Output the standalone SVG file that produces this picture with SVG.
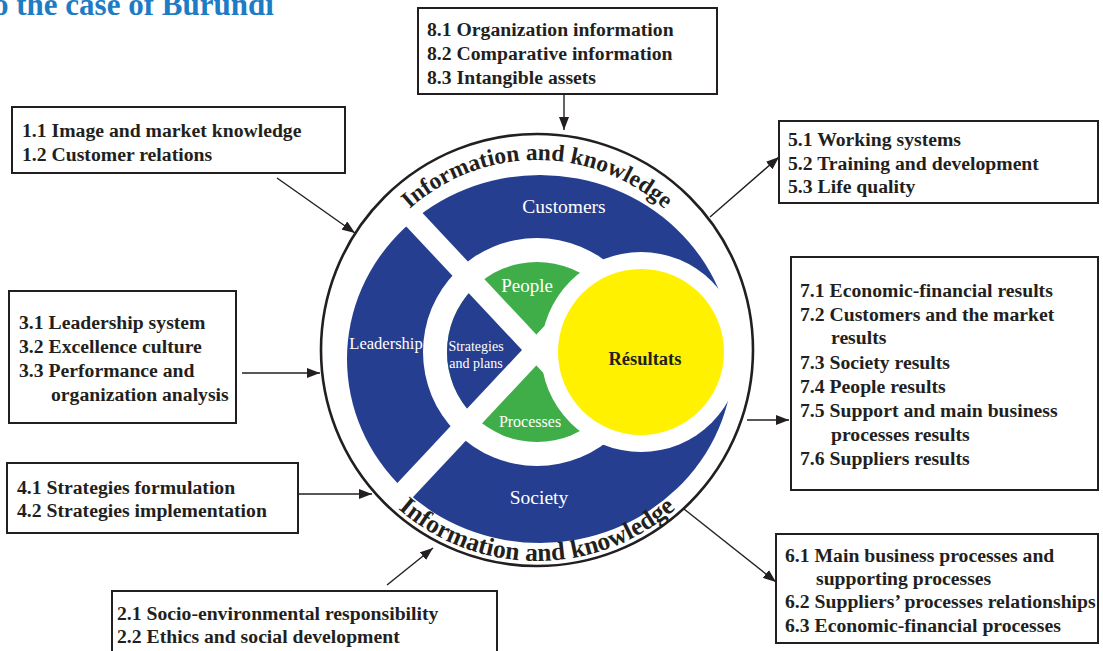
<svg xmlns="http://www.w3.org/2000/svg" width="1103" height="651" viewBox="0 0 1103 651">
<style>
.box{fill:#fff;stroke:#231f20;stroke-width:2}
.bt{font-family:"Liberation Serif",serif;font-weight:bold;font-size:19.7px;fill:#231f20}
.wl{font-family:"Liberation Serif",serif;fill:#fff;text-anchor:middle}
.arc{font-family:"Liberation Serif",serif;font-weight:bold;fill:#231f20}
.con{stroke:#231f20;stroke-width:1.4;fill:none;marker-end:url(#ah)}
</style>
<defs>
<marker id="ah" markerUnits="userSpaceOnUse" markerWidth="14" markerHeight="10" refX="13" refY="5" orient="auto">
<path d="M0,0 L13,5 L0,10 z" fill="#231f20"/>
</marker>
<clipPath id="innerClip"><circle cx="537" cy="352" r="90"/></clipPath>
<path id="arcTop" d="M347,350 A190,190 0 0 1 727,350"/>
<path id="arcBot" d="M326,350 A211,211 0 0 0 748,350"/>
</defs>
<rect width="1103" height="651" fill="#fff"/>
<text x="-7" y="15" font-family="Liberation Serif, serif" font-weight="bold" font-size="31" fill="#1c7cc4">o the case of Burundi</text>

<g id="wheel">
<ellipse cx="540" cy="359" rx="193" ry="184" fill="#263e8f"/>
<circle cx="537" cy="352" r="114" fill="#fff"/>
<circle cx="537" cy="352" r="90" fill="#3fae49"/>
<polygon points="536,350 380,183 380,517" fill="#263e8f" clip-path="url(#innerClip)"/>
<line x1="380" y1="183" x2="556" y2="371" stroke="#fff" stroke-width="21"/>
<line x1="380" y1="517" x2="556" y2="329" stroke="#fff" stroke-width="21"/>
<circle cx="641" cy="352" r="100" fill="#fff"/>
<circle cx="641" cy="352" r="83" fill="#fff100"/>
<circle cx="537" cy="350" r="216" fill="none" stroke="#231f20" stroke-width="2.6"/>
<text class="arc" font-size="23.5"><textPath href="#arcTop" startOffset="50%" text-anchor="middle">Information and knowledge</textPath></text>
<text class="arc" font-size="25.5"><textPath href="#arcBot" startOffset="50%" text-anchor="middle">Information and knowledge</textPath></text>
<text class="wl" x="564" y="213" font-size="19.5">Customers</text>
<text class="wl" x="386" y="349" font-size="16.5">Leadership</text>
<text class="wl" x="476" y="351" font-size="14">Strategies</text>
<text class="wl" x="476" y="368" font-size="14">and plans</text>
<text class="wl" x="527" y="292" font-size="19">People</text>
<text class="wl" x="530" y="427" font-size="16">Processes</text>
<text class="wl" x="539" y="504" font-size="19.5">Society</text>
<text x="645" y="365" font-family="Liberation Serif, serif" font-weight="bold" font-size="18.5" fill="#231f20" text-anchor="middle">Résultats</text>
</g>

<g id="box8">
<rect class="box" x="418" y="8" width="299" height="86"/>
<text class="bt" x="427" y="36">8.1 Organization information</text>
<text class="bt" x="427" y="60">8.2 Comparative information</text>
<text class="bt" x="427" y="84">8.3 Intangible assets</text>
</g>
<g id="box1">
<rect class="box" x="12" y="107" width="333" height="66"/>
<text class="bt" x="22" y="137">1.1 Image and market knowledge</text>
<text class="bt" x="22" y="161">1.2 Customer relations</text>
</g>
<g id="box3">
<rect class="box" x="9" y="291" width="227" height="132"/>
<text class="bt" x="19" y="329">3.1 Leadership system</text>
<text class="bt" x="19" y="353">3.2 Excellence culture</text>
<text class="bt" x="19" y="377">3.3 Performance and</text>
<text class="bt" x="51" y="401">organization analysis</text>
</g>
<g id="box4">
<rect class="box" x="7" y="463" width="291" height="70"/>
<text class="bt" x="17" y="494">4.1 Strategies formulation</text>
<text class="bt" x="17" y="517">4.2 Strategies implementation</text>
</g>
<g id="box2">
<rect class="box" x="112" y="591" width="385" height="70"/>
<text class="bt" x="117" y="620">2.1 Socio-environmental responsibility</text>
<text class="bt" x="117" y="643">2.2 Ethics and social development</text>
</g>
<g id="box5">
<rect class="box" x="779" y="121" width="319" height="82"/>
<text class="bt" x="788" y="146">5.1 Working systems</text>
<text class="bt" x="788" y="170">5.2 Training and development</text>
<text class="bt" x="788" y="193">5.3 Life quality</text>
</g>
<g id="box7">
<rect class="box" x="791" y="257" width="307" height="233"/>
<text class="bt" x="800" y="297">7.1 Economic-financial results</text>
<text class="bt" x="800" y="321">7.2 Customers and the market</text>
<text class="bt" x="831" y="344">results</text>
<text class="bt" x="800" y="369">7.3 Society results</text>
<text class="bt" x="800" y="393">7.4 People results</text>
<text class="bt" x="800" y="417">7.5 Support and main business</text>
<text class="bt" x="831" y="441">processes results</text>
<text class="bt" x="800" y="465">7.6 Suppliers results</text>
</g>
<g id="box6">
<rect class="box" x="776" y="534" width="322" height="109"/>
<text class="bt" x="785" y="562">6.1 Main business processes and</text>
<text class="bt" x="816" y="585">supporting processes</text>
<text class="bt" x="785" y="608">6.2 Suppliers’ processes relationships</text>
<text class="bt" x="785" y="632">6.3 Economic-financial processes</text>
</g>

<g id="connectors">
<line class="con" x1="564" y1="94" x2="564" y2="130"/>
<line class="con" x1="277" y1="178" x2="355" y2="233"/>
<line class="con" x1="242" y1="373" x2="320" y2="373"/>
<line class="con" x1="298" y1="494" x2="372" y2="494"/>
<line class="con" x1="387" y1="585" x2="433" y2="548"/>
<line class="con" x1="710" y1="217" x2="779" y2="157"/>
<line class="con" x1="747" y1="420" x2="789" y2="420"/>
<line class="con" x1="684" y1="509" x2="776" y2="582"/>
</g>
</svg>
